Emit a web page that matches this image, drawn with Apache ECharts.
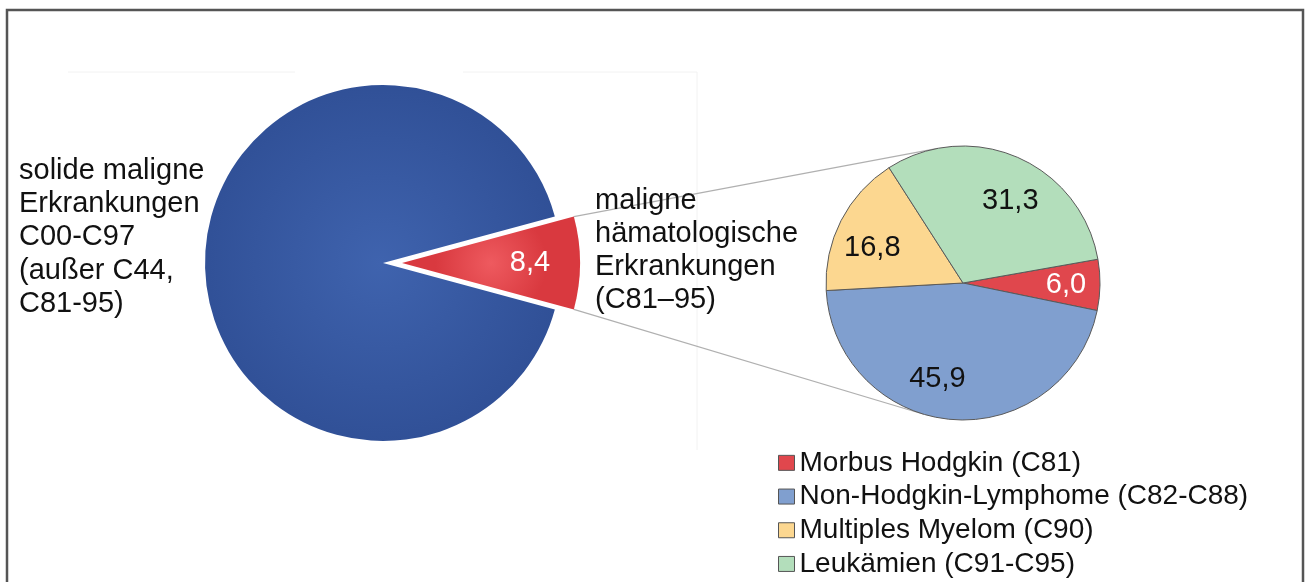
<!DOCTYPE html>
<html>
<head>
<meta charset="utf-8">
<title>Maligne Erkrankungen</title>
<script src="https://cdn.jsdelivr.net/npm/echarts@6/dist/echarts.min.js"></script>
<style>
  html, body { margin: 0; padding: 0; background: #fff; }
  #chart { width: 1307px; height: 582px; }
</style>
</head>
<body>
<div id="chart"></div>
<script>
// Hauptkreis: Anteil an allen malignen Erkrankungen (%)
const mainNames = [
  "maligne\nhämatologische\nErkrankungen\n(C81–95)",
  "solide maligne\nErkrankungen\nC00-C97\n(außer C44,\nC81-95)"
];
const mainValues = [8.4, 91.6];

// Sekundärkreis: Aufteilung der hämatologischen Erkrankungen (%)
const subNames = [
  "Morbus Hodgkin (C81)",
  "Non-Hodgkin-Lymphome (C82-C88)",
  "Multiples Myelom (C90)",
  "Leukämien (C91-C95)"
];
const subValues = [6.0, 45.9, 16.8, 31.3];
const subColors = ["#e0474d", "#809fcf", "#fcd790", "#b3debb"];
// kleine Verschiebungen der Wertbeschriftungen (wie im Original)
const subLabelShift = [[0, 1], [-18, -7], [1, 12], [6, 12]];

const FONT = "'Liberation Sans', Arial, sans-serif";

// Geometrie
const mainCenter = [383, 263], mainR = 178, mainOffset = 19;
const subCenter = [963, 283], subR = 137, subStart = 10;

const fmt = v => v.toFixed(1).replace(".", ",");
const half = mainValues[0] / (mainValues[0] + mainValues[1]) * 180; // halber Winkel des Ausschnitts

const radial = (c0, c1) => new echarts.graphic.RadialGradient(0.5, 0.5, 0.6, [
  { offset: 0, color: c0 }, { offset: 1, color: c1 }
]);
const mainColors = [radial("#ee5a5f", "#d9393f"), radial("#3f63ae", "#2e4d93")];

// Verbindungslinien: Tangenten von den Ecken des Ausschnitts an den zweiten Kreis
function tangent(p, sign) {
  const dx = p[0] - subCenter[0], dy = subCenter[1] - p[1];
  const d = Math.hypot(dx, dy);
  const a = Math.atan2(dy, dx) + sign * Math.acos(subR / d);
  return [subCenter[0] + subR * Math.cos(a), subCenter[1] - subR * Math.sin(a)];
}
const rad = half * Math.PI / 180;
const cornerTop = [mainCenter[0] + mainOffset + mainR * Math.cos(rad), mainCenter[1] - mainR * Math.sin(rad)];
const cornerBot = [cornerTop[0], mainCenter[1] + mainR * Math.sin(rad)];
const tTop = tangent(cornerTop, -1);
const tBot = tangent(cornerBot, 1);

let chartDom = document.getElementById("chart");
let myChart = echarts.init(chartDom, null, { renderer: "canvas" });

let option = {
  animation: false,
  backgroundColor: "#ffffff",
  textStyle: { fontFamily: FONT },
  legend: {
    data: subNames,
    orient: "vertical",
    left: 778,
    top: 446,
    height: 140,
    padding: 0,
    itemWidth: 16,
    itemHeight: 15,
    itemGap: 0,
    icon: "rect",
    selectedMode: false,
    itemStyle: { borderColor: "#555", borderWidth: 1 },
    textStyle: { fontSize: 28, color: "#111", lineHeight: 33.7, fontFamily: FONT }
  },
  graphic: [
    // Rahmen
    { type: "rect", shape: { x: 7, y: 10, width: 1296, height: 600 }, style: { fill: null, stroke: "#555", lineWidth: 2.5 }, silent: true },
    // blasse Hilfslinien der Zeichenfläche
    { type: "line", shape: { x1: 68, y1: 72, x2: 295, y2: 72 }, style: { stroke: "#f2f2f2", lineWidth: 1 }, silent: true },
    { type: "line", shape: { x1: 463, y1: 72, x2: 697, y2: 72 }, style: { stroke: "#f2f2f2", lineWidth: 1 }, silent: true },
    { type: "line", shape: { x1: 697, y1: 72, x2: 697, y2: 450 }, style: { stroke: "#f2f2f2", lineWidth: 1 }, silent: true },
    // Verbindungslinien
    { type: "line", shape: { x1: cornerTop[0], y1: cornerTop[1], x2: tTop[0], y2: tTop[1] }, style: { stroke: "#b0b0b0", lineWidth: 1.2 }, silent: true },
    { type: "line", shape: { x1: cornerBot[0], y1: cornerBot[1], x2: tBot[0], y2: tBot[1] }, style: { stroke: "#b0b0b0", lineWidth: 1.2 }, silent: true },
    // Beschriftungen der Kategorien
    {
      type: "text", left: 19, top: 154, z: 10,
      style: { text: mainNames[1], font: "29px " + FONT, fill: "#111", lineHeight: 33.3 }
    },
    {
      type: "text", left: 595, top: 184, z: 10,
      style: { text: mainNames[0], font: "29px " + FONT, fill: "#111", lineHeight: 33 }
    }
  ],
  series: [
    {
      name: "gesamt",
      type: "pie",
      center: mainCenter,
      radius: mainR,
      startAngle: half,
      selectedMode: "single",
      selectedOffset: mainOffset,
      silent: true,
      emphasis: { disabled: true },
      label: { show: false },
      labelLine: { show: false },
      data: mainValues.map((v, i) => ({
        name: mainNames[i], value: v, selected: i === 0,
        itemStyle: { color: mainColors[i] }
      }))
    },
    {
      // nur für die Position der Wertbeschriftung
      name: "gesamt-label",
      type: "pie",
      center: mainCenter,
      radius: [72, mainR],
      startAngle: half,
      selectedMode: "single",
      selectedOffset: mainOffset,
      silent: true,
      emphasis: { disabled: true },
      itemStyle: { color: "rgba(0,0,0,0)" },
      label: {
        show: true, position: "inside", fontSize: 29, fontFamily: FONT, color: "#fff",
        formatter: p => fmt(p.value)
      },
      labelLine: { show: false },
      data: mainValues.map((v, i) => ({
        name: mainNames[i], value: v, selected: i === 0,
        label: { show: i === 0 }
      }))
    },
    {
      name: "hämatologisch",
      type: "pie",
      center: subCenter,
      radius: subR,
      startAngle: subStart,
      silent: true,
      emphasis: { disabled: true },
      itemStyle: { borderColor: "#5a5a5a", borderWidth: 1 },
      label: { show: false },
      labelLine: { show: false },
      data: subValues.map((v, i) => ({ name: subNames[i], value: v, itemStyle: { color: subColors[i] } }))
    },
    {
      name: "hämatologisch-label",
      type: "pie",
      center: subCenter,
      radius: [63, subR],
      startAngle: subStart,
      silent: true,
      emphasis: { disabled: true },
      itemStyle: { color: "rgba(0,0,0,0)", borderWidth: 0 },
      label: {
        show: true, position: "inside", fontSize: 29, fontFamily: FONT, color: "#111",
        formatter: p => fmt(p.value)
      },
      labelLayout: p => ({ dx: subLabelShift[p.dataIndex][0], dy: subLabelShift[p.dataIndex][1] }),
      labelLine: { show: false },
      data: subValues.map((v, i) => ({
        name: subNames[i], value: v,
        label: i === 0 ? { color: "#fff" } : {}
      }))
    }
  ]
};

myChart.setOption(option);
</script>
</body>
</html>
